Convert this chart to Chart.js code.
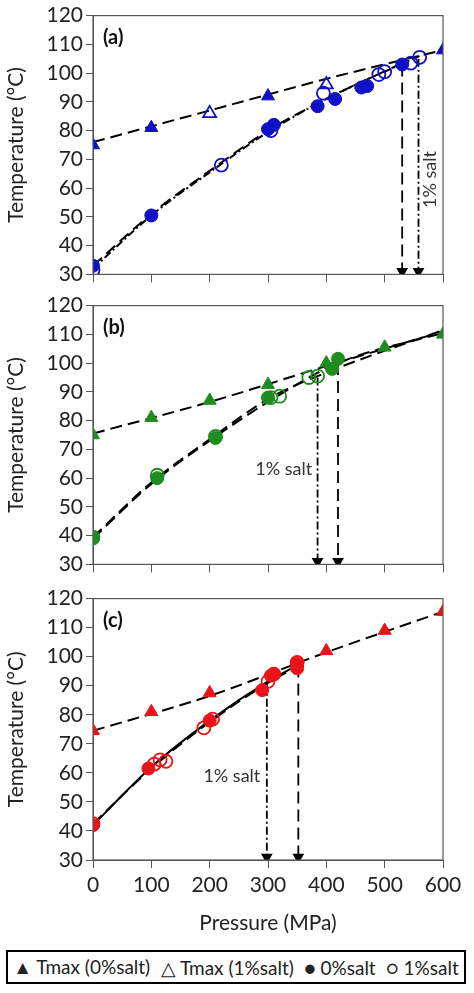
<!DOCTYPE html>
<html><head><meta charset="utf-8">
<script src="https://cdn.jsdelivr.net/npm/chart.js@4.4.0/dist/chart.umd.min.js"></script>
<style>
body{margin:0;background:#fff;width:474px;height:993px;position:relative;overflow:hidden;font-family:Lato,sans-serif}
.c{position:absolute;left:0;width:474px}
#legend{position:absolute;left:6px;top:950px;width:460px;height:34px;border:2px solid #000;box-sizing:border-box;font-size:19px;display:flex;align-items:center;justify-content:space-around;white-space:nowrap;color:#222}
</style></head><body>
<div class="c" style="top:0;height:290px"><canvas id="ca"></canvas></div>
<div class="c" style="top:290px;height:290px"><canvas id="cb"></canvas></div>
<div class="c" style="top:583px;height:357px"><canvas id="cc"></canvas></div>
<div id="legend"><span>▲ Tmax (0%salt)</span><span>△ Tmax (1%salt)</span><span>● 0%salt</span><span>○ 1%salt</span></div>
<script>
// ---- Panel (a) ----
const aTmax0 = [[0,75],[100,81],[300,92],[600,108]];
const aTmax1 = [[200,86],[400,96]];
const aS0 = [[0,33],[100,50.5],[300,80.5],[310,82],[385,88.5],[415,91],[460,95],[470,95.5],[530,103]];
const aS1 = [[0,31.5],[220,68],[305,80],[395,93],[490,99.5],[500,100.5],[545,103.5],[560,105.5]];
const aFitTmax = [[0,76],[200,87],[400,98],[600,108]];
const aFit0 = [[0,33],[100,51],[200,66],[300,80],[400,91],[530,103.5]];
const aFit1 = [[0,32],[100,50.5],[200,65.5],[300,79.5],[400,91],[560,106]];
const aArrow0 = [[530,103],[530,31]];
const aArrow1 = [[558,105],[558,31]];
// ---- Panel (b) ----
const bTmax0 = [[0,75],[100,81],[200,87],[300,92.5],[400,100],[500,105.5],[600,110]];
const bS0 = [[0,39],[110,60],[210,74],[300,88],[410,98],[420,101.5]];
const bS1 = [[0,39.5],[110,61],[210,74.5],[305,88],[320,88.5],[370,95],[385,95.5]];
const bFitTmax = [[0,75.5],[200,86.5],[400,99],[600,111]];
const bFit0 = [[0,39],[100,58],[200,73],[300,86.5],[420,100],[600,110.5]];
const bFit1 = [[0,39.5],[100,58.5],[200,73.5],[300,87.5],[385,95.5],[600,111.5]];
const bArrow1 = [[385,95],[385,31]];
const bArrow0 = [[420,100],[420,31]];
// ---- Panel (c) ----
const cTmax0 = [[0,74.5],[100,81],[200,87.5],[400,102],[500,109],[600,115.5]];
const cS0 = [[0,42],[95,61.5],[200,78],[290,88.5],[305,93.5],[310,94],[350,96],[350,97.5]];
const cS1 = [[0,42.5],[105,63],[115,64.5],[125,64],[190,75.5],[205,78.5],[300,91.5],[310,94],[350,98]];
const cFitTmax = [[0,74.5],[200,86.5],[400,101.5],[600,115.5]];
const cFit0 = [[0,42],[100,62],[200,78],[300,91.5],[350,97]];
const cFit1 = [[0,42.5],[100,61.5],[200,77.5],[300,91],[350,96.5]];
const cArrow1 = [[298,91],[298,31]];
const cArrow0 = [[352,97],[352,31]];
const xTicks = [0,100,200,300,400,500,600];
const yTicks = [30,40,50,60,70,80,90,100,110,120];

const pts = a => a.map(([x,y])=>({x,y}));
function marks(data,color,style,open,r){
  return {type:'scatter',data:pts(data),pointStyle:style,pointRadius:r,
    backgroundColor:open?'rgba(255,255,255,0)':color,borderColor:color,borderWidth:open?1.8:1,showLine:false,order:1};
}
function fit(data,dash,solid){
  return {type:'line',data:pts(data),borderColor:'#000',borderWidth:2,borderDash:solid?[]:dash,
    pointRadius:0,cubicInterpolationMode:'monotone',fill:false,order:2};
}
function arrow(data,dash){
  return {type:'line',data:pts(data),borderColor:'#000',borderWidth:1.8,borderDash:dash,
    pointRadius:[0,5],pointStyle:'triangle',rotation:180,pointBackgroundColor:'#000',pointBorderColor:'#000',order:2};
}
const DASH=[12,6], DOT=[8,3,2,3];

function make(id,datasets,label,note,last){
  const textPlugin={id:'txt',afterDraw(ch){
    const {ctx,chartArea:ca,scales}=ch;
    ctx.save();ctx.strokeStyle='#555';ctx.lineWidth=1.2;ctx.strokeRect(ca.left,ca.top,ca.width,ca.height);
    ctx.fillStyle='#111';ctx.font='bold 20px Lato';ctx.textBaseline='middle';ctx.fillText(label,ca.left+10,ca.top+22);
    ctx.font='18px Lato';ctx.fillStyle='#333';
    const px=scales.x.getPixelForValue(note.x),py=scales.y.getPixelForValue(note.y);
    ctx.translate(px,py);if(note.rot)ctx.rotate(-Math.PI/2);ctx.textAlign='center';ctx.fillText('1% salt',0,0);
    ctx.restore();}};
  new Chart(document.getElementById(id),{
    data:{datasets},
    options:{responsive:true,maintainAspectRatio:false,animation:false,
      layout:{padding:{top:15,right:31,left:0,bottom:0}},
      plugins:{legend:{display:false},tooltip:{enabled:false}},
      scales:{
        x:{type:'linear',min:0,max:600,afterBuildTicks:s=>{s.ticks=xTicks.map(v=>({value:v}))},
          afterFit:s=>{s.height=last?80:14},
          grid:{drawOnChartArea:false,tickLength:8,color:'#555'},border:{color:'#555'},
          ticks:{display:true,color:last?'#222':'rgba(0,0,0,0)',font:{size:last?21:1,family:'Lato'},padding:5,maxRotation:0,callback:v=>last?v:''},
          title:{display:last,text:'Pressure (MPa)',font:{size:21,family:'Lato'},color:'#222',padding:{top:2}}},
        y:{min:30,max:120,afterBuildTicks:s=>{s.ticks=yTicks.map(v=>({value:v}))},
          afterFit:s=>{s.width=93},
          grid:{drawOnChartArea:false,tickLength:7,color:'#555'},border:{color:'#555'},
          ticks:{color:'#222',font:{size:21,family:'Lato'},padding:3},
          title:{display:true,text:'Temperature (°C)',font:{size:21,family:'Lato'},color:'#222',padding:{bottom:0}}}
      }},
    plugins:[textPlugin]});
}
const BL='#1010c8', GR='#1e8c1e', RD='#e81418';
make('ca',[fit(aFitTmax,DASH),fit(aFit0,DASH),fit(aFit1,DOT),arrow(aArrow0,DASH),arrow(aArrow1,DOT),
  marks(aTmax0,BL,'triangle',false,7.5),marks(aTmax1,BL,'triangle',true,7.5),marks(aS0,BL,'circle',false,6.5),marks(aS1,BL,'circle',true,6.5)],
  '(a)',{x:578,y:63,rot:true},false);
make('cb',[fit(bFitTmax,DASH),fit(bFit0,DASH),fit(bFit1,DASH),arrow(bArrow1,DOT),arrow(bArrow0,DASH),
  marks(bTmax0,GR,'triangle',false,7.5),marks(bS0,GR,'circle',false,6.5),marks(bS1,GR,'circle',true,6.5)],
  '(b)',{x:327,y:63,rot:false},false);
make('cc',[fit(cFitTmax,DASH),fit(cFit0,DASH,true),fit(cFit1,DASH),arrow(cArrow1,DOT),arrow(cArrow0,DASH),
  marks(cTmax0,RD,'triangle',false,7.5),marks(cS0,RD,'circle',false,6.5),marks(cS1,RD,'circle',true,6.5)],
  '(c)',{x:238,y:59,rot:false},true);
</script></body></html>
